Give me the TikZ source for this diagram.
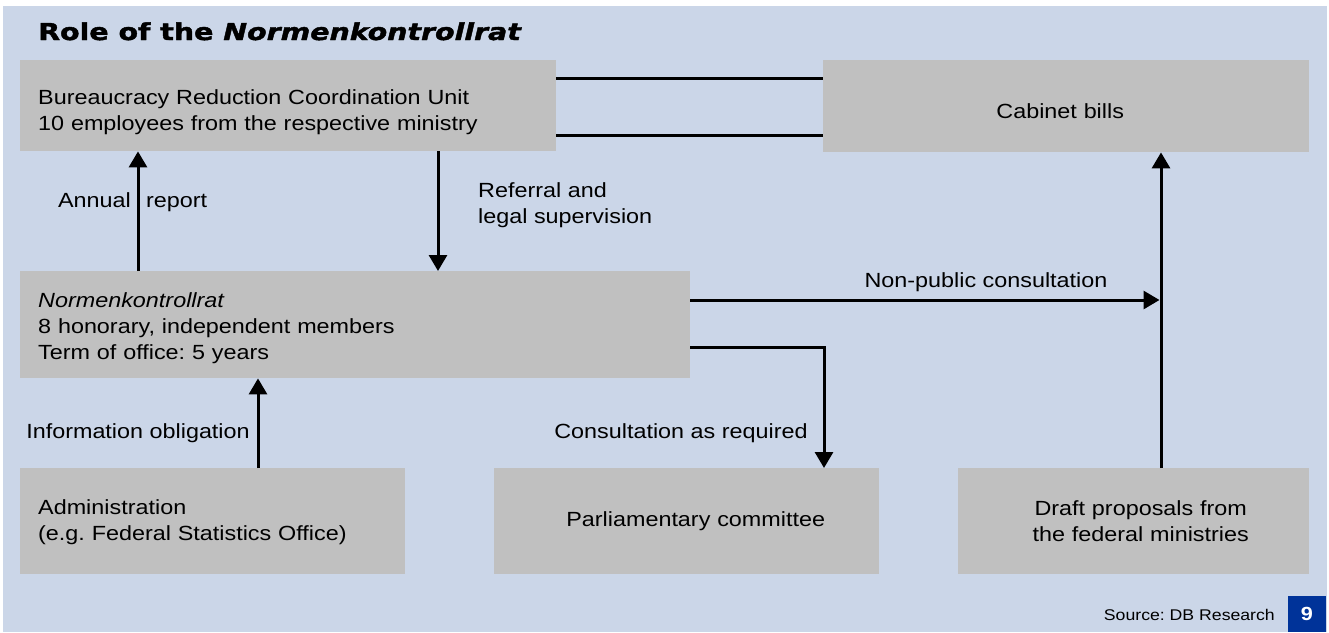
\documentclass[tikz,border=0pt]{standalone}
\usepackage{fontspec}
\setmainfont{Liberation Sans}[FakeStretch=1.14]
\newfontfamily\titlefont{DejaVu Sans}[FakeStretch=1.22, BoldFeatures={FakeBold=1.8}, BoldItalicFeatures={FakeBold=1.8}]
\usetikzlibrary{arrows.meta}
\definecolor{bgblue}{RGB}{203,214,232}
\definecolor{boxgray}{RGB}{192,192,192}
\definecolor{numblue}{RGB}{0,51,153}
\newcommand\lift[1]{\rule{0pt}{#1}}
\begin{document}
\frenchspacing
\begin{tikzpicture}[x=1pt,y=-1pt,
  bodyfont/.style={font=\frenchspacing\fontsize{20.5}{26}\selectfont},
  box/.style={bodyfont, fill=boxgray, draw=none, inner ysep=0pt, inner xsep=18pt, anchor=north west},
  lbl/.style={bodyfont, inner sep=0pt},
  arr/.style={line width=3pt, -{Triangle[length=16pt,width=18pt]}},
  plain/.style={line width=3pt}
]
\useasboundingbox (0,0) rectangle (1329,632);
\fill[bgblue] (3,6) rectangle (1327,632);

\node[anchor=base west, inner sep=0pt, font=\titlefont\fontsize{23.3}{26}\selectfont\bfseries] (title) at (38,40) {Role of the \textit{Normenkontrollrat}};

\node[box, minimum width=536pt, minimum height=91pt, text width=500pt, align=left] (brcu) at (20,60)
  {\lift{27pt}Bureaucracy Reduction Coordination Unit\\10 employees from the respective ministry};
\node[box, minimum width=486pt, minimum height=92pt, text width=450pt, align=center] (cab) at (823,60)
  {\lift{25pt}\hspace*{-12pt}Cabinet bills};
\node[box, minimum width=670pt, minimum height=107pt, text width=634pt, align=left] (nkr) at (20,271)
  {\lift{21pt}\textit{Normenkontrollrat}\\8 honorary, independent members\\Term of office: 5 years};
\node[box, minimum width=385pt, minimum height=106pt, text width=349pt, align=left] (adm) at (20,468)
  {\lift{17pt}Administration\\(e.g. Federal Statistics Office)};
\node[box, minimum width=385pt, minimum height=106pt, text width=349pt, align=center] (parl) at (494,468)
  {\hspace*{18pt}Parliamentary committee};
\node[box, minimum width=351pt, minimum height=106pt, text width=315pt, align=center] (draft) at (958,468)
  {\hspace*{14pt}Draft proposals from\\\hspace*{14pt}the federal ministries};

% connectors
\draw[plain] ([yshift=-18pt]brcu.north east) -- ([yshift=-18pt]brcu.north east -| cab.west);
\draw[plain] ([yshift=-75pt]brcu.north east) -- ([yshift=-75pt]brcu.north east -| cab.west);

\draw[arr] ([xshift=118pt]nkr.north west) -- ([xshift=118pt]brcu.south west);
\draw[arr] ([xshift=418pt]brcu.south west) -- ([xshift=418pt]nkr.north west);
\draw[arr] ([xshift=238pt]adm.north west) -- ([xshift=238pt]nkr.south west);

\coordinate (vx) at ([xshift=203pt]draft.north west);
\draw[arr] (vx) -- (vx |- cab.south);
\draw[arr, shorten >=1.5pt] ([yshift=-29pt]nkr.north east) -- ([yshift=-29pt]nkr.north east -| vx);
\draw[arr] ([yshift=-76pt]nkr.north east) -| ([xshift=330pt]parl.north west);

% labels
\node[lbl, anchor=mid east] (l1a) at (131,205) {Annual};
\node[lbl, anchor=mid west] (l1b) at (146,205) {report};
\node[lbl, anchor=west, align=left] (l2) at (478,205) {Referral and\\legal supervision};
\node[lbl, anchor=mid] (l3) at (986,284.5) {Non-public consultation};
\node[lbl, anchor=mid] (l4) at (681,435.5) {Consultation as required};
\node[lbl, anchor=mid] (l5) at (138,435.5) {Information obligation};

\node[anchor=mid east, inner sep=0pt, font=\frenchspacing\fontsize{15.5}{18}\selectfont] (src) at (1275,618) {Source: DB Research};
\node[fill=numblue, text=white, minimum width=38pt, minimum height=36pt, inner sep=0pt, font=\fontsize{19}{22}\selectfont\bfseries] (num) at (1307,614) {9};
\end{tikzpicture}
\end{document}
